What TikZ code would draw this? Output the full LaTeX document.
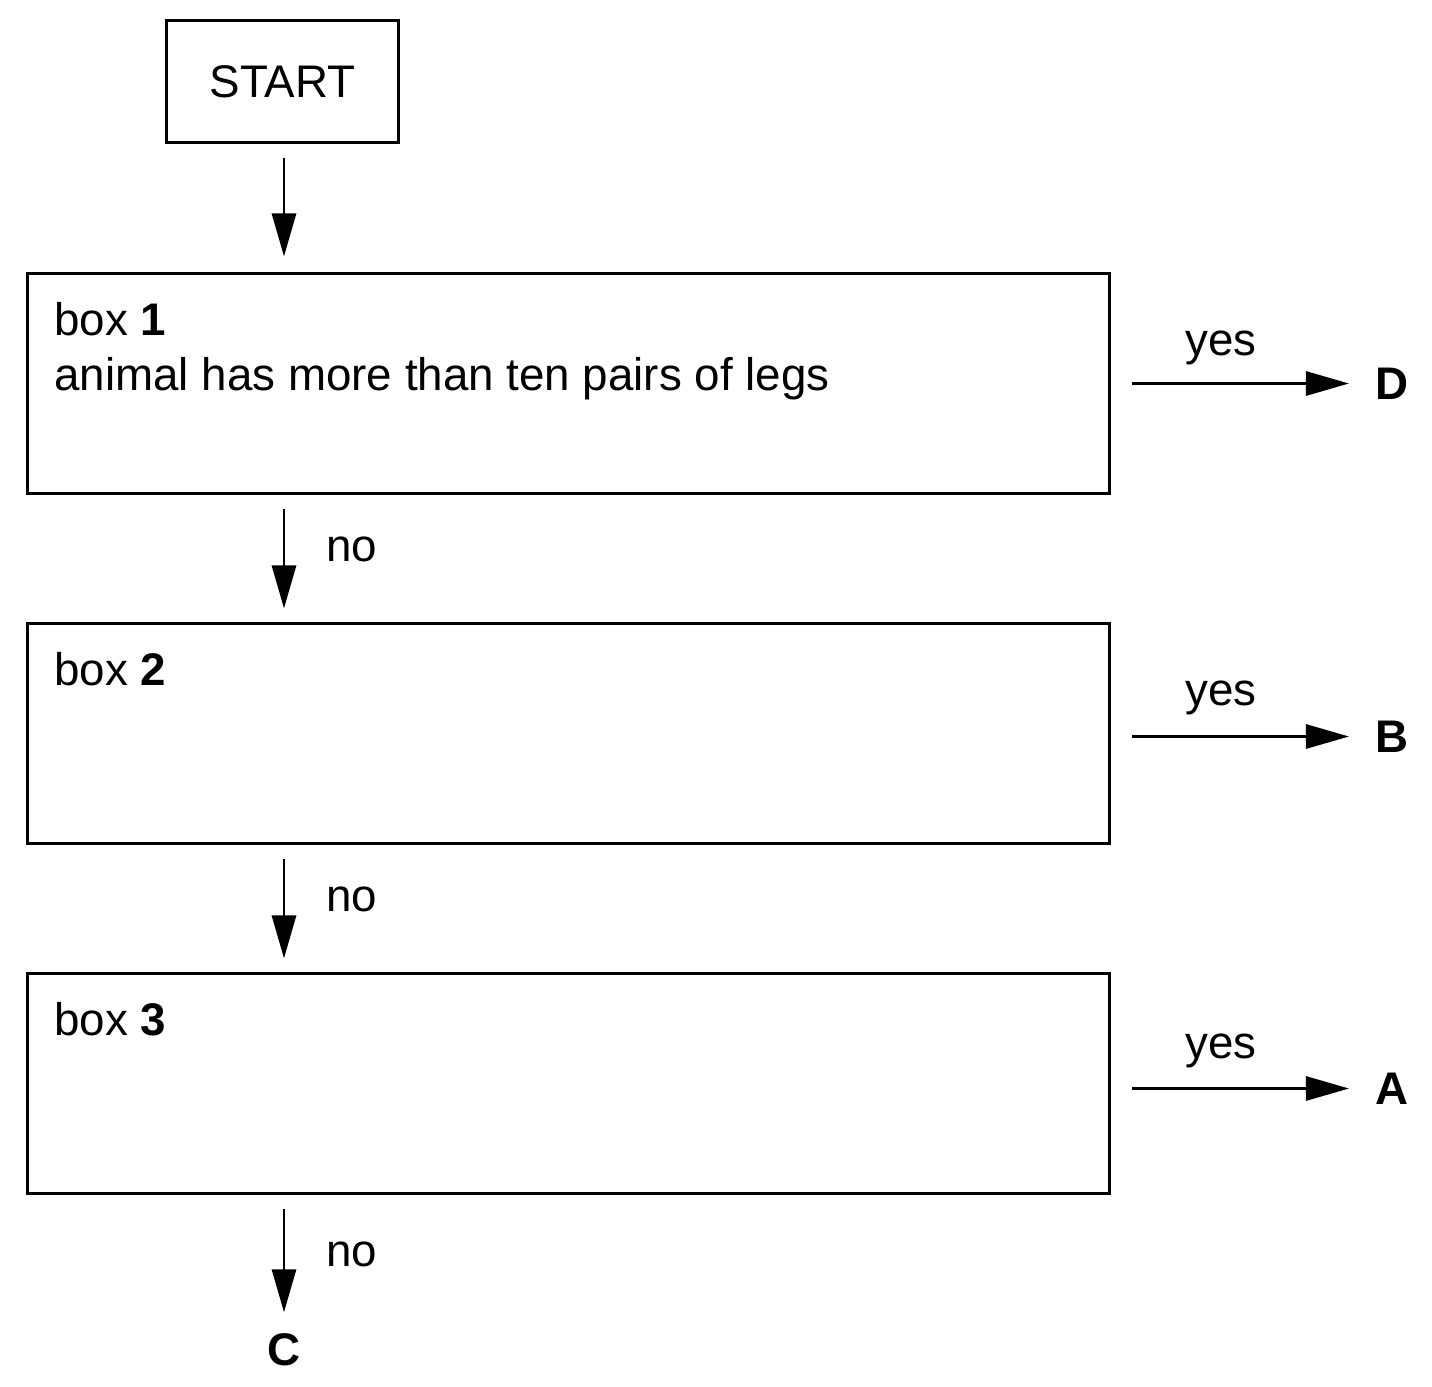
\documentclass[tikz,border=0pt]{standalone}
\usepackage{fontspec}
\setmainfont{Liberation Sans}
\usetikzlibrary{arrows.meta}

\begin{document}
\begin{tikzpicture}[x=0.01cm, y=-0.01cm, line width=0.85pt,
  every node/.style={font=\fontsize{13pt}{15.6pt}\selectfont},
  keybox/.style={draw, line width=0.85pt, minimum width=10.82cm, minimum height=2.19cm, inner sep=0pt},
  flow/.style={-{Triangle[length=0.43cm,width=0.24cm]}, line width=0.85pt, shorten <=0.14cm, shorten >=0.14cm},
  endlbl/.style={inner sep=0pt, font=\fontsize{13pt}{15.6pt}\selectfont\bfseries},
  txt/.style={inner sep=0pt, anchor=base west},
  side/.style={inner sep=0pt, anchor=base}]

  \useasboundingbox (0,0) rectangle (1432,1387);

  % -- Start --
  \node[draw, line width=0.85pt, minimum width=2.32cm, minimum height=1.21cm] (start) at (282.5,81.5) {START};

  % -- Key boxes --
  \node[keybox] (b1) at (568.5,383.5) {};
  \node[keybox] (b2) at (568.5,733.5) {};
  \node[keybox] (b3) at (568.5,1083.5) {};

  \node[txt] (t1) at (53,335) {box \textbf{1}};
  \node[txt] (q1) at (53,390) {animal has more than ten pairs of legs};
  \node[txt] (t2) at (53,685) {box \textbf{2}};
  \node[txt] (t3) at (53,1035) {box \textbf{3}};

  % -- Outcomes --
  \node[endlbl] (D) at (1392,383.5) {D};
  \node[endlbl] (B) at (1392,736.5) {B};
  \node[endlbl] (A) at (1392,1088.5) {A};
  \node[endlbl] (C) at (284,1350) {C};

  % -- Flow down --
  \draw[flow, shorten >=0.16cm] (start.south -| C) -- (b1.north -| C);
  \draw[flow] (b1.south -| C) -- (b2.north -| C);
  \draw[flow] (b2.south -| C) -- (b3.north -| C);
  \draw[flow, shorten >=0.2cm] (b3.south -| C) -- (C);

  \node[side] (n1) at (352,561) {no};
  \node[side] (n2) at (352,911) {no};
  \node[side] (n3) at (352,1266) {no};

  % -- Flow right --
  \draw[flow, shorten <=0.21cm, shorten >=0.25cm] (b1.east) -- (D);
  \draw[flow, shorten <=0.21cm, shorten >=0.25cm] (b2.east |- B) -- (B);
  \draw[flow, shorten <=0.21cm, shorten >=0.25cm] (b3.east |- A) -- (A);

  \node[side] (y1) at (1221,355) {yes};
  \node[side] (y2) at (1221,705) {yes};
  \node[side] (y3) at (1221,1058) {yes};

\end{tikzpicture}
\end{document}
